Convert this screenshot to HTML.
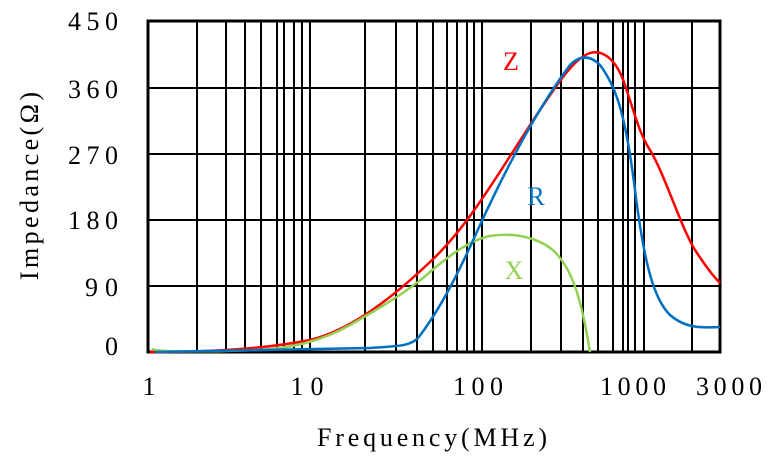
<!DOCTYPE html>
<html><head><meta charset="utf-8"><style>
html,body{margin:0;padding:0;background:#fff;width:773px;height:462px;overflow:hidden}
</style></head><body>
<svg width="773" height="462" xmlns="http://www.w3.org/2000/svg" font-family="Liberation Serif, Noto Serif CJK SC, serif">
<g stroke="#000" stroke-width="2">
<line x1="148" y1="286" x2="720" y2="286"/>
<line x1="148" y1="220" x2="720" y2="220"/>
<line x1="148" y1="154" x2="720" y2="154"/>
<line x1="148" y1="88" x2="720" y2="88"/>
<line x1="197" y1="21" x2="197" y2="352"/><line x1="226" y1="21" x2="226" y2="352"/>
<line x1="245" y1="21" x2="245" y2="352"/><line x1="261" y1="21" x2="261" y2="352"/>
<line x1="277" y1="21" x2="277" y2="352"/><line x1="284" y1="21" x2="284" y2="352"/>
<line x1="294" y1="21" x2="294" y2="352"/><line x1="302" y1="21" x2="302" y2="352"/>
<line x1="310" y1="21" x2="310" y2="352"/>
<line x1="365" y1="21" x2="365" y2="352"/><line x1="396" y1="21" x2="396" y2="352"/>
<line x1="417" y1="21" x2="417" y2="352"/><line x1="433" y1="21" x2="433" y2="352"/>
<line x1="447" y1="21" x2="447" y2="352"/><line x1="457" y1="21" x2="457" y2="352"/>
<line x1="467" y1="21" x2="467" y2="352"/><line x1="474" y1="21" x2="474" y2="352"/>
<line x1="482" y1="21" x2="482" y2="352"/>
<line x1="531" y1="21" x2="531" y2="352"/><line x1="561" y1="21" x2="561" y2="352"/>
<line x1="583" y1="21" x2="583" y2="352"/><line x1="598" y1="21" x2="598" y2="352"/>
<line x1="613" y1="21" x2="613" y2="352"/><line x1="623" y1="21" x2="623" y2="352"/>
<line x1="628" y1="21" x2="628" y2="352"/><line x1="635" y1="21" x2="635" y2="352"/>
<line x1="644" y1="21" x2="644" y2="352"/>
<line x1="692" y1="21" x2="692" y2="352"/>
</g>
<rect x="148" y="21" width="572" height="331" fill="none" stroke="#000" stroke-width="3"/>
<path d="M150,352 C200,352 260,350 310,340 C350,330 390,300 430,262 C470,225 500,170 540,110 C560,80 575,58 590,53 C600,50 615,55 625,85 C635,115 640,135 650,150 C665,175 680,225 695,250 C705,265 712,275 720,283" fill="none" stroke="#f00" stroke-width="2.5"/>
<path d="M152,349 C158,352 200,352 260,350 C290,348 320,342 350,325 C380,308 410,290 430,272 C450,255 470,240 490,236 C515,232 540,238 555,252 C570,268 580,290 590,352" fill="none" stroke="#92d050" stroke-width="2.5"/>
<path d="M155,352 C250,350 330,349 370,348 C400,346 410,346 418,338 C440,310 460,270 480,225 C510,160 540,105 570,65 C580,55 590,55 600,65 C615,85 625,110 635,190 C645,270 655,300 670,315 C685,328 700,328 720,327" fill="none" stroke="#0070c0" stroke-width="2.5"/>
<g font-size="26" text-anchor="end">
<text x="118" y="30" textLength="50">450</text><text x="118" y="98" textLength="50">360</text><text x="118" y="164" textLength="50">270</text>
<text x="118" y="229" textLength="50">180</text><text x="118" y="296" textLength="33">90</text><text x="118" y="355">0</text>
</g>
<g font-size="26" text-anchor="middle">
<text x="149" y="395">1</text><text x="307" y="395" textLength="33">10</text><text x="478" y="395" textLength="50">100</text>
<text x="633" y="395" textLength="66">1000</text><text x="729" y="395" textLength="66">3000</text>
<text x="432" y="446" textLength="230">Frequency(MHz)</text>
<text x="511" y="70" fill="#f00">Z</text>
<text x="536" y="205" fill="#0070c0">R</text>
<text x="514" y="279" fill="#92d050">X</text>
</g>
<text transform="translate(38,186) rotate(-90)" font-size="26" text-anchor="middle" textLength="188">Impedance(Ω)</text>
</svg>
</body></html>
